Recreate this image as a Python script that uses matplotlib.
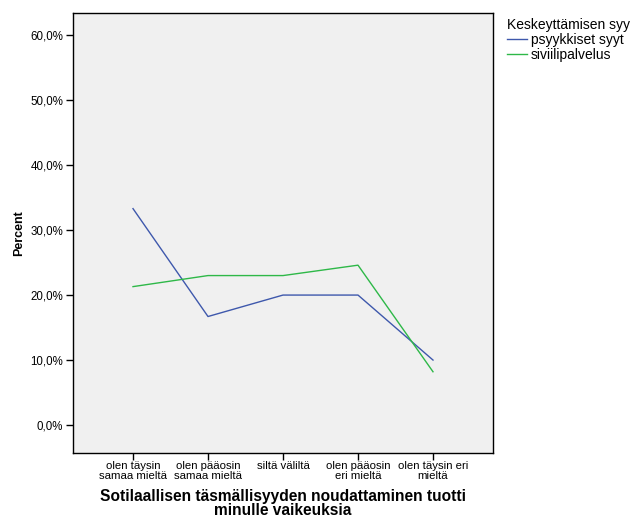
import matplotlib
matplotlib.use('Agg')
import matplotlib.pyplot as plt
from matplotlib.ticker import FuncFormatter

plt.rcParams['font.family'] = ['Liberation Sans', 'DejaVu Sans']

categories = ['olen täysin\nsamaa mieltä', 'olen pääosin\nsamaa mieltä', 'siltä väliltä',
              'olen pääosin\neri mieltä', 'olen täysin eri\nmieltä']
psyykkiset = [33.3, 16.7, 20.0, 20.0, 10.0]
siviilipalvelus = [21.3, 23.0, 23.0, 24.6, 8.2]
series_names = ['psyykkiset syyt', 'siviilipalvelus']
legend_title = 'Keskeyttämisen syy'
yticks = [0, 10, 20, 30, 40, 50, 60]

fig = plt.figure(figsize=(6.31, 5.17), dpi=100)
ax = fig.add_axes([73 / 631, 1 - 453 / 517, (493 - 73) / 631, (453 - 13) / 517])
ax.set_facecolor('#f0f0f0')

x = list(range(len(categories)))
ax.plot(x, psyykkiset, color='#3e58ac', lw=1.0, label=series_names[0])
ax.plot(x, siviilipalvelus, color='#2eb848', lw=1.0, label=series_names[1])

ax.set_xlim(-0.8, 4.8)
ax.set_ylim(-4.3, 63.4)
ax.set_xticks(x)
ax.set_xticklabels(categories, fontsize=8.2, linespacing=0.92)
ax.set_yticks(yticks)
ax.yaxis.set_major_formatter(FuncFormatter(lambda v, p: f'{v:.1f}%'.replace('.', ',')))
ax.tick_params(axis='y', labelsize=8.3, length=5, width=1, direction='out', pad=2)
ax.tick_params(axis='x', length=5, width=1, direction='out', pad=1)
for s in ax.spines.values():
    s.set_linewidth(1)
    s.set_color('black')

ax.set_ylabel('Percent', fontsize=9, fontweight='bold', labelpad=4)
ax.set_xlabel('Sotilaallisen täsmällisyyden noudattaminen tuotti\nminulle vaikeuksia',
              fontsize=11.2, fontweight='bold', labelpad=6, linespacing=0.9)

leg = ax.legend(title=legend_title, loc='upper left', bbox_to_anchor=(1.026, 0.996),
                frameon=False, fontsize=10, title_fontsize=10, handlelength=1.45,
                handletextpad=0.3, borderpad=0.2, labelspacing=0.1,
                borderaxespad=0.0)
leg._legend_box.align = 'left'

fig.savefig('out.png', dpi=100)
